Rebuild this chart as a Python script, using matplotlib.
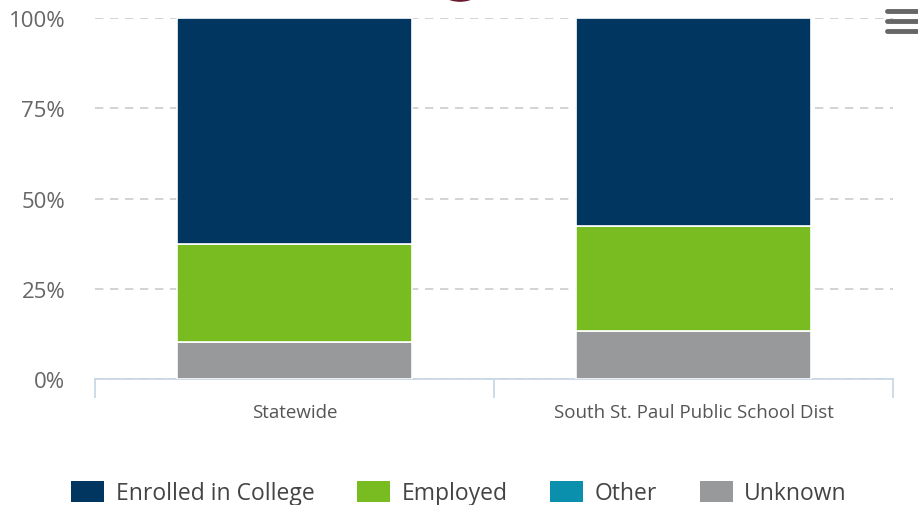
import numpy as np
import matplotlib
matplotlib.use('Agg')
import matplotlib.pyplot as plt
from matplotlib.lines import Line2D
from matplotlib.patches import Circle

plt.rcParams['font.family'] = ['Open Sans', 'DejaVu Sans']

categories = ['Statewide', 'South St. Paul Public School Dist']
series_names = ['Enrolled in College', 'Employed', 'Other', 'Unknown']
unknown = [10.2, 13.3]
other = [0.0, 0.0]
employed = [27.2, 29.1]
enrolled = [62.6, 57.6]
colors = {'Enrolled in College': '#00365f', 'Employed': '#79bc22',
          'Other': '#0a90ad', 'Unknown': '#98999b'}
y_ticks = [0, 25, 50, 75, 100]
y_labels = ['0%', '25%', '50%', '75%', '100%']

fig = plt.figure(figsize=(9.18, 5.06), dpi=100)
ax = fig.add_axes([95 / 918, 1 - 380 / 506, 798 / 918, 361 / 506])

x = np.arange(len(categories))
width = 0.59
# stack from bottom: Unknown, Other, Employed, Enrolled
stack = [('Unknown', unknown), ('Other', other), ('Employed', employed),
         ('Enrolled in College', enrolled)]
bottom = np.zeros(len(categories))
handles = {}
for name, vals in stack:
    vals = np.array(vals)
    b = ax.bar(x, vals, width, bottom=bottom, color=colors[name],
               edgecolor='white', linewidth=1.2, zorder=3, label=name)
    handles[name] = b
    bottom += vals

ax.set_xlim(-0.5, 1.5)
ax.set_ylim(0, 100)
ax.set_yticks(y_ticks)
ax.set_yticklabels(y_labels, fontsize=16, color='#666666')
ax.yaxis.grid(True, linestyle=(0, (5, 4)), color='#cccccc', linewidth=1.2, zorder=0)
ax.tick_params(axis='y', length=0, pad=21.5)

ax.set_xticks(x)
ax.set_xticklabels(categories, fontsize=13.5, color='#555555')
ax.set_xticks([-0.5, 0.5, 1.5], minor=True)
ax.tick_params(axis='x', which='major', length=0, pad=17)
ax.tick_params(axis='x', which='minor', length=14, width=1.2, color='#c5d5e5')

for s in ['top', 'right', 'left']:
    ax.spines[s].set_visible(False)
ax.spines['bottom'].set_color('#c5d5e5')
ax.spines['bottom'].set_linewidth(1.2)

leg = fig.legend([handles[n] for n in series_names], series_names,
                 loc='center', bbox_to_anchor=(0.5, 1 - 494 / 506), ncol=4,
                 frameon=False, fontsize=16.5, handlelength=1.45, handleheight=1.05,
                 handletextpad=0.5, columnspacing=1.85, labelcolor='#444444')
for h in leg.legend_handles:
    h.set_edgecolor('none')

# export menu icon and partial badge at the top
for yy in [12, 22, 32]:
    fig.add_artist(Line2D([887 / 918, 917 / 918], [1 - yy / 506] * 2,
                          color='#666666', linewidth=3.5, solid_capstyle='round'))
fig.add_artist(Circle((460 / 918, 1 + 8 / 506), 0.02, transform=fig.transFigure,
                      color='#6b1a2e', clip_on=False))

fig.savefig('out.png', dpi=100)
